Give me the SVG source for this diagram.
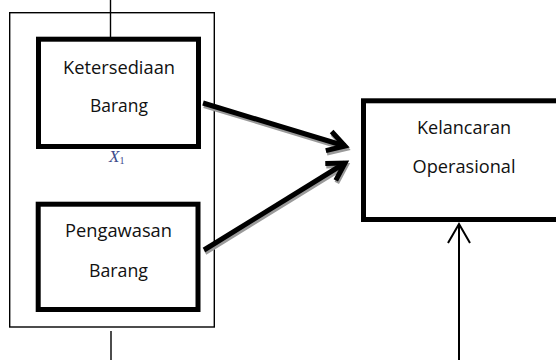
<svg xmlns="http://www.w3.org/2000/svg" width="556" height="360" viewBox="0 0 556 360">
<style>
.thin{fill:none;stroke:#000;stroke-width:1.4}
.box{fill:#fff;stroke:#000;stroke-width:5}
.lbl{font-family:"Open Sans","Liberation Sans",sans-serif;font-size:18px;fill:#111;text-anchor:middle}
.arr{fill:none;stroke:#000;stroke-width:5}
.shd{fill:none;stroke:#9a9a9a;stroke-width:5}
</style>
<defs>
<marker id="hb" markerUnits="userSpaceOnUse" markerWidth="40" markerHeight="40" viewBox="-30 -20 40 40" refX="0" refY="0" orient="auto" overflow="visible">
<path d="M-17,-10 L0,0 L-17,10" fill="none" stroke="#000" stroke-width="5"/>
</marker>
<marker id="hs" markerUnits="userSpaceOnUse" markerWidth="40" markerHeight="40" viewBox="-30 -20 40 40" refX="0" refY="0" orient="auto" overflow="visible">
<path d="M-17,-10 L0,0 L-17,10" fill="none" stroke="#9a9a9a" stroke-width="5"/>
</marker>
<marker id="ht" markerUnits="userSpaceOnUse" markerWidth="40" markerHeight="40" viewBox="-30 -20 40 40" refX="0" refY="0" orient="auto" overflow="visible">
<path d="M-19,-11 L0,0 L-19,11" fill="none" stroke="#000" stroke-width="2"/>
</marker>
</defs>
<g id="frame">
<rect class="thin" x="9.7" y="12.7" width="204.6" height="314.3"/>
</g>
<g id="connectors">
<line class="thin" x1="110.5" y1="0" x2="110.5" y2="37"/>
<line class="thin" x1="111" y1="331" x2="111" y2="360"/>
<path class="shd" d="M204,105.5 L346,148.5" marker-end="url(#hs)"/>
<path class="shd" d="M205,252.5 L346,165.5" marker-end="url(#hs)"/>
<path class="arr" d="M203,103 L345,146" marker-end="url(#hb)"/>
<path class="arr" d="M204,250 L345,163" marker-end="url(#hb)"/>
<path fill="none" stroke="#000" stroke-width="2" d="M459,360 L459,224" marker-end="url(#ht)"/>
</g>
<g id="node-ketersediaan">
<rect class="box" x="38.5" y="39.2" width="160" height="107.3"/>
<text class="lbl" x="119" y="74" textLength="112" lengthAdjust="spacingAndGlyphs">Ketersediaan</text>
<text class="lbl" x="119" y="112" textLength="58" lengthAdjust="spacingAndGlyphs">Barang</text>
</g>
<text x="109" y="161.5" font-family="Liberation Serif,serif" font-style="italic" font-size="17" fill="#3d4c8c">X<tspan font-size="10" font-style="normal" dy="2">1</tspan></text>
<g id="node-pengawasan">
<rect class="box" x="38.2" y="204.2" width="159.8" height="105.3"/>
<text class="lbl" x="118.5" y="237" textLength="107" lengthAdjust="spacingAndGlyphs">Pengawasan</text>
<text class="lbl" x="118.5" y="277" textLength="59" lengthAdjust="spacingAndGlyphs">Barang</text>
</g>
<g id="node-kelancaran">
<rect class="box" x="363.5" y="100.8" width="240" height="118.7"/>
<text class="lbl" x="464" y="134" textLength="94" lengthAdjust="spacingAndGlyphs">Kelancaran</text>
<text class="lbl" x="464" y="172.5" textLength="103" lengthAdjust="spacingAndGlyphs">Operasional</text>
</g>
</svg>
